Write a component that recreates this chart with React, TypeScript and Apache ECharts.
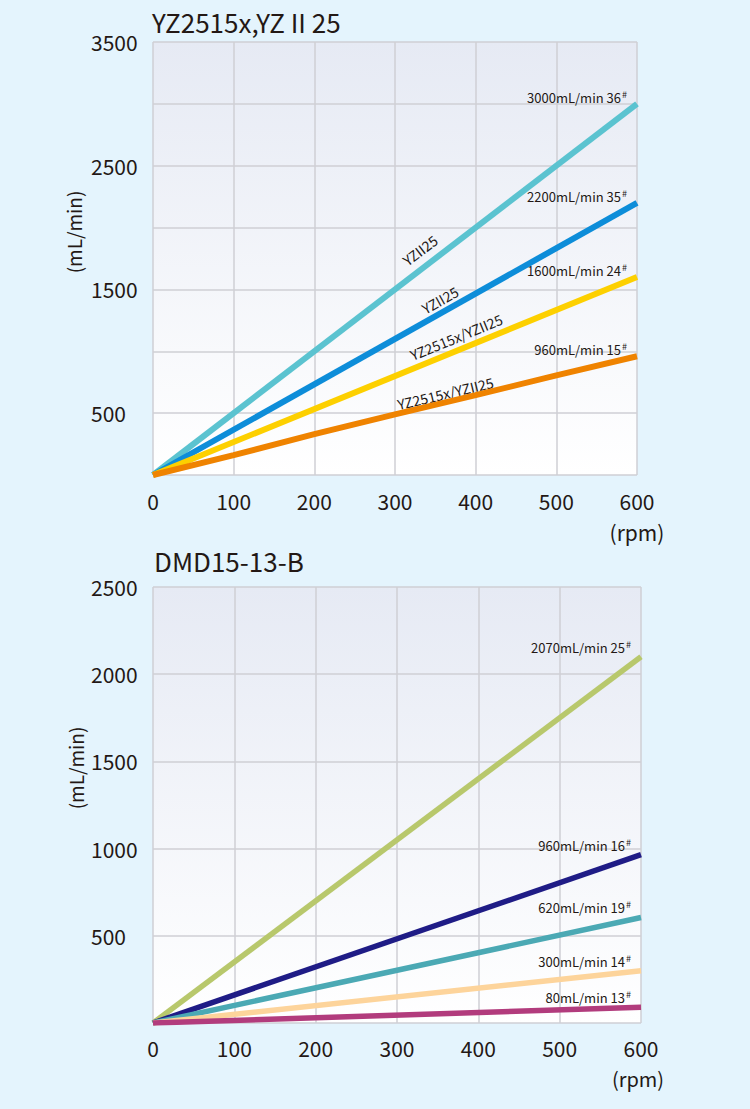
import React, { useEffect, useRef } from 'react';
import * as echarts from 'echarts';

// x axis (rpm)
const rpm = [0, 100, 200, 300, 400, 500, 600];
const ends = [0, 600];

// upper chart: YZ2515x, YZII25 (mL/min)
const tube36 = [0, 3000];
const tube35 = [0, 2200];
const tube24 = [0, 1600];
const tube15 = [0, 160, 330, 490, 645, 805, 960];

// lower chart: DMD15-13-B (mL/min)
const tube25 = [0, 2100];
const tube16 = [0, 965];
const tube19 = [0, 605];
const tube14 = [0, 300];
const tube13 = [0, 90];

const topNames = ['3000mL/min 36', '2200mL/min 35', '1600mL/min 24', '960mL/min 15'];
const bottomNames = ['2070mL/min 25', '960mL/min 16', '620mL/min 19', '300mL/min 14', '80mL/min 13'];
const slopeNames = ['YZII25', 'YZII25', 'YZ2515x/YZII25', 'YZ2515x/YZII25'];
const slopeAt = [343, 363, 382, 365];
const slopeGap = [16, 12, 13, 9];

const topColors = ['#5bc3d0', '#0d8dd9', '#fdd000', '#ef8300'];
const bottomColors = ['#b8c86c', '#1f1c86', '#4ba9b4', '#fdd49b', '#b23c7d'];

const FONT = '"Noto Sans CJK SC", "Noto Sans", sans-serif';
const INK = '#231815';

const pairs = (xs: number[], ys: number[]) => ys.map((y, i) => [xs[i], y]);

function valueAt(xs: number[], ys: number[], x: number) {
  for (let i = 1; i < xs.length; i++) {
    if (x <= xs[i]) {
      const t = (x - xs[i - 1]) / (xs[i] - xs[i - 1]);
      return { v: ys[i - 1] + t * (ys[i] - ys[i - 1]), i };
    }
  }
  return { v: ys[ys.length - 1], i: xs.length - 1 };
}

export default function App() {
  const ref = useRef<HTMLDivElement>(null);

  useEffect(() => {
    if (!ref.current) return;
    const chart = echarts.init(ref.current, null, { renderer: 'svg' });

    const topSets = [tube36, tube35, tube24, tube15].map((ys) => ({ xs: ys.length === 2 ? ends : rpm, ys }));
    const bottomSets = [tube25, tube16, tube19, tube14, tube13].map((ys) => ({ xs: ys.length === 2 ? ends : rpm, ys }));

    const plotBg = new echarts.graphic.LinearGradient(0, 0, 0, 1, [
      { offset: 0, color: '#e6eaf4' },
      { offset: 1, color: '#ffffff' },
    ]);

    const xAxisBase = (gridIndex: number, margin: number) => ({
      type: 'value',
      gridIndex,
      min: 0,
      max: 600,
      interval: 100,
      axisLine: { show: false },
      axisTick: { show: false },
      splitLine: { show: true, lineStyle: { color: '#cfcfd4', width: 1.5 } },
      axisLabel: { color: INK, fontFamily: FONT, fontSize: 21, margin },
    });

    const yAxisBase = (gridIndex: number, max: number, show: (v: number) => boolean) => ({
      type: 'value',
      gridIndex,
      min: 0,
      max,
      interval: 500,
      axisLine: { show: false },
      axisTick: { show: false },
      splitLine: { show: true, lineStyle: { color: '#cfcfd4', width: 1.5 } },
      axisLabel: {
        color: INK,
        fontFamily: FONT,
        fontSize: 21,
        align: 'left',
        margin: 62,
        formatter: (v: number) => (show(v) ? String(v) : ''),
      },
    });

    const series: any[] = [];
    topSets.forEach((s, i) =>
      series.push({
        type: 'line',
        xAxisIndex: 0,
        yAxisIndex: 0,
        data: pairs(s.xs, s.ys),
        showSymbol: false,
        lineStyle: { color: topColors[i], width: 6 },
        silent: true,
      })
    );
    bottomSets.forEach((s, i) =>
      series.push({
        type: 'line',
        xAxisIndex: 1,
        yAxisIndex: 1,
        data: pairs(s.xs, s.ys),
        showSymbol: false,
        lineStyle: { color: bottomColors[i], width: 5.5 },
        silent: true,
      })
    );

    chart.setOption({
      animation: false,
      backgroundColor: '#e4f4fd',
      grid: [
        { left: 153, top: 42, width: 484, height: 433, show: true, backgroundColor: plotBg, borderWidth: 0 },
        { left: 153, top: 587, width: 488, height: 436, show: true, backgroundColor: plotBg, borderWidth: 0 },
      ],
      xAxis: [xAxisBase(0, 15), xAxisBase(1, 14)],
      yAxis: [
        yAxisBase(0, 3500, (v) => (v / 500) % 2 === 1),
        yAxisBase(1, 2500, (v) => v !== 0),
      ],
      series,
    });

    const graphics: any[] = [];
    const txt = (x: number, y: number, text: string, fontSize: number, extra: any = {}) => ({
      type: 'text',
      x,
      y,
      silent: true,
      ...extra,
      style: {
        text,
        fill: INK,
        font: `${fontSize}px ${FONT}`,
        align: 'left',
        verticalAlign: 'middle',
        ...(extra.style || {}),
      },
    });

    graphics.push(txt(152, 21, 'YZ2515x,YZ II 25', 26));
    graphics.push(txt(154, 560, 'DMD15-13-B', 26));
    graphics.push(txt(73, 232, '(mL/min)', 19, { rotation: Math.PI / 2, style: { align: 'center' } }));
    graphics.push(txt(75, 768, '(mL/min)', 19, { rotation: Math.PI / 2, style: { align: 'center' } }));

    // axis unit under the last x tick
    const rpmTop = chart.convertToPixel({ xAxisIndex: 0, yAxisIndex: 0 }, [600, 0]) as number[];
    const rpmBottom = chart.convertToPixel({ xAxisIndex: 1, yAxisIndex: 1 }, [600, 0]) as number[];
    graphics.push(txt(rpmTop[0], rpmTop[1] + 57, '(rpm)', 21, { style: { align: 'center' } }));
    graphics.push(txt(rpmBottom[0] - 3, rpmBottom[1] + 55, '(rpm)', 20, { style: { align: 'center' } }));

    const endLabel = (seriesIndex: number, xs: number[], ys: number[], name: string, dy: number) => {
      const p = chart.convertToPixel({ seriesIndex }, [xs[xs.length - 1], ys[ys.length - 1]]) as number[];
      return {
        type: 'text',
        x: p[0] - 10,
        y: p[1] + dy,
        silent: true,
        style: {
          text: `{a|${name}}{s|#}`,
          align: 'right',
          verticalAlign: 'bottom',
          fill: INK,
          rich: {
            a: { fontFamily: FONT, fontSize: 13, fill: INK },
            s: { fontFamily: FONT, fontSize: 9, fill: INK, verticalAlign: 'top', padding: [0, 0, 6, 1] },
          },
        },
      };
    };

    topSets.forEach((s, i) => graphics.push(endLabel(i, s.xs, s.ys, topNames[i], 1)));
    bottomSets.forEach((s, i) => graphics.push(endLabel(4 + i, s.xs, s.ys, bottomNames[i], -2)));

    topSets.forEach((s, i) => {
      const { v, i: seg } = valueAt(s.xs, s.ys, slopeAt[i]);
      const p = chart.convertToPixel({ seriesIndex: i }, [slopeAt[i], v]) as number[];
      const a1 = chart.convertToPixel({ seriesIndex: i }, [s.xs[seg - 1], s.ys[seg - 1]]) as number[];
      const a2 = chart.convertToPixel({ seriesIndex: i }, [s.xs[seg], s.ys[seg]]) as number[];
      const ang = Math.atan2(a1[1] - a2[1], a2[0] - a1[0]);
      const d = slopeGap[i];
      graphics.push({
        type: 'text',
        x: p[0] - d * Math.sin(ang),
        y: p[1] - d * Math.cos(ang),
        rotation: ang,
        silent: true,
        style: {
          text: slopeNames[i],
          fill: INK,
          font: `14px ${FONT}`,
          align: 'center',
          verticalAlign: 'middle',
        },
      });
    });

    chart.setOption({ graphic: graphics });

    return () => chart.dispose();
  }, []);

  return <div ref={ref} style={{ position: 'absolute', left: 0, top: 0, width: 750, height: 1109 }} />;
}
